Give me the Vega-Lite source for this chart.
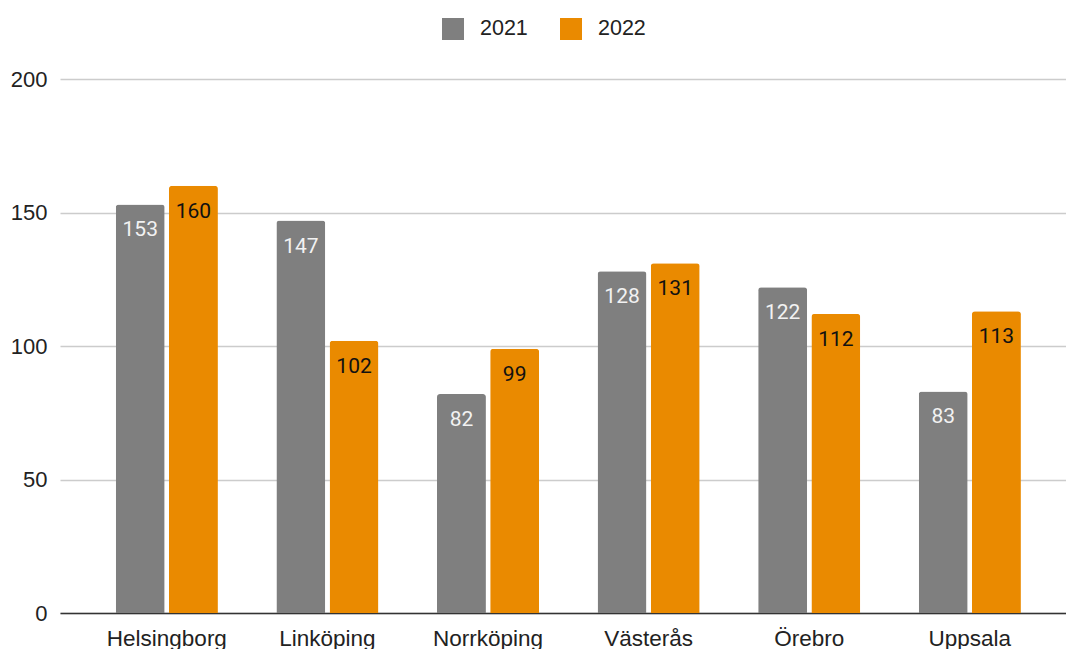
{
  "$schema": "https://vega.github.io/schema/vega-lite/v6.json",
  "autosize": {"type": "none"},
  "padding": {"left": 60, "top": 79, "right": 0, "bottom": 36},
  "width": 1006,
  "height": 534,
  "background": "#ffffff",
  "config": {"view": {"stroke": null}},
  "data": {
    "values": [
      {"city": "Helsingborg", "year": "2021", "value": 153},
      {"city": "Helsingborg", "year": "2022", "value": 160},
      {"city": "Linköping", "year": "2021", "value": 147},
      {"city": "Linköping", "year": "2022", "value": 102},
      {"city": "Norrköping", "year": "2021", "value": 82},
      {"city": "Norrköping", "year": "2022", "value": 99},
      {"city": "Västerås", "year": "2021", "value": 128},
      {"city": "Västerås", "year": "2022", "value": 131},
      {"city": "Örebro", "year": "2021", "value": 122},
      {"city": "Örebro", "year": "2022", "value": 112},
      {"city": "Uppsala", "year": "2021", "value": 83},
      {"city": "Uppsala", "year": "2022", "value": 113}
    ]
  },
  "encoding": {
    "x": {
      "field": "city",
      "type": "nominal",
      "sort": null,
      "scale": {"paddingInner": 0.364, "paddingOuter": 0.314, "align": 0.553},
      "axis": {
        "title": null,
        "labelAngle": 0,
        "ticks": false,
        "labelPadding": 14,
        "labelFont": "Liberation Sans",
        "labelFontSize": 22.5,
        "labelColor": "#222222",
        "domainColor": "#333333",
        "domainWidth": 1.5,
        "grid": false
      }
    },
    "xOffset": {
      "field": "year",
      "type": "nominal",
      "scale": {"paddingInner": 0.08, "paddingOuter": 0}
    },
    "y": {
      "field": "value",
      "type": "quantitative",
      "scale": {"domain": [0, 200], "nice": false},
      "axis": {
        "title": null,
        "values": [0, 50, 100, 150, 200],
        "ticks": false,
        "domain": false,
        "labelPadding": 13,
        "labelFont": "Liberation Sans",
        "labelFontSize": 22,
        "labelColor": "#222222",
        "gridColor": "#cccccc",
        "gridWidth": 1.3
      }
    }
  },
  "layer": [
    {
      "mark": {"type": "bar", "cornerRadiusEnd": 3},
      "encoding": {
        "color": {
          "field": "year",
          "type": "nominal",
          "scale": {"domain": ["2021", "2022"], "range": ["#7f7f7f", "#ea8a00"]},
          "legend": {
            "title": null,
            "orient": "none",
            "direction": "horizontal",
            "legendX": 382,
            "legendY": -61,
            "symbolType": "square",
            "symbolSize": 484,
            "symbolStrokeWidth": 0,
            "symbolOpacity": 1,
            "labelOffset": 16,
            "columnPadding": 32,
            "labelFont": "Liberation Sans",
            "labelFontSize": 21.5,
            "labelColor": "#222222"
          }
        }
      }
    },
    {
      "mark": {"type": "text", "baseline": "alphabetic", "dy": 32, "font": "Roboto", "fontSize": 21},
      "encoding": {
        "text": {"field": "value", "type": "quantitative"},
        "color": {
          "condition": {"test": "datum.year === '2021'", "value": "#f2f2f2"},
          "value": "#111111"
        }
      }
    }
  ]
}
